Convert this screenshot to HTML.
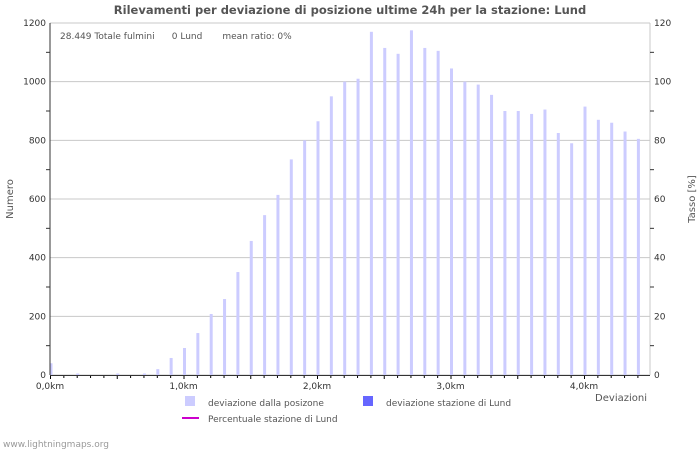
<!DOCTYPE html>
<html><head><meta charset="utf-8">
<style>
body{margin:0;background:#fff;width:700px;height:450px;overflow:hidden;font-family:"DejaVu Sans","Liberation Sans",sans-serif;}
svg text{font-family:"DejaVu Sans","Liberation Sans",sans-serif;}
</style></head><body>
<svg id="chart" width="700" height="450" xmlns="http://www.w3.org/2000/svg">
<text x="350" y="14" text-anchor="middle" font-size="11.5" font-weight="bold" fill="#555">Rilevamenti per deviazione di posizione ultime 24h per la stazione: Lund</text>
<g id="grid"></g>
<g id="bars"></g>
<g id="axes"></g>
<text x="60" y="39" font-size="9" fill="#555">28.449 Totale fulmini &#160;&#160;&#160;&#160;&#160;0 Lund &#160;&#160;&#160;&#160;&#160;&#160;mean ratio: 0%</text>
<text x="13" y="199" font-size="10" fill="#555" text-anchor="middle" transform="rotate(-90 13 199)">Numero</text>
<text x="695" y="199" font-size="10" fill="#555" text-anchor="middle" transform="rotate(-90 695 199)">Tasso [%]</text>
<text x="647" y="401" font-size="10" fill="#555" text-anchor="end">Deviazioni</text>
<g>
<rect x="185" y="396" width="10" height="10" fill="#ccccff"/>
<text x="208" y="406" font-size="9" fill="#555">deviazione dalla posizone</text>
<rect x="363" y="396" width="10" height="10" fill="#6666ff"/>
<text x="386" y="406" font-size="9" fill="#555">deviazione stazione di Lund</text>
<line x1="182" y1="418" x2="199" y2="418" stroke="#cc00cc" stroke-width="2"/>
<text x="208" y="422" font-size="9" fill="#555">Percentuale stazione di Lund</text>
</g>
<text x="3" y="447" font-size="9" fill="#999">www.lightningmaps.org</text>
</svg>
<script>
const categories = [0,0.1,0.2,0.3,0.4,0.5,0.6,0.7,0.8,0.9,1.0,1.1,1.2,1.3,1.4,1.5,1.6,1.7,1.8,1.9,2.0,2.1,2.2,2.3,2.4,2.5,2.6,2.7,2.8,2.9,3.0,3.1,3.2,3.3,3.4,3.5,3.6,3.7,3.8,3.9,4.0,4.1,4.2,4.3,4.4];
const deviationValues = [40,0,5,0,0,5,0,5,20,58,92,143,208,259,351,457,545,614,735,800,865,950,1000,1010,1170,1115,1095,1175,1115,1105,1045,1000,990,955,900,900,890,905,825,790,915,870,860,830,805];
const stationValues = [0,0,0,0,0,0,0,0,0,0,0,0,0,0,0,0,0,0,0,0,0,0,0,0,0,0,0,0,0,0,0,0,0,0,0,0,0,0,0,0,0,0,0,0,0];
const leftTicks = [0,200,400,600,800,1000,1200];
const rightTicks = [0,20,40,60,80,100,120];
const xTickLabels = ["0,0km","1,0km","2,0km","3,0km","4,0km"];

const NS="http://www.w3.org/2000/svg";
const X0=50,X1=650,Y0=375,Y1=23;
const xs=km=>X0+km*133.5;
const ys=v=>Y0-(v/1200)*(Y0-Y1);
const yr=v=>Y0-(v/120)*(Y0-Y1);
function mk(tag,attrs,parent){const e=document.createElementNS(NS,tag);for(const k in attrs)e.setAttribute(k,attrs[k]);parent.appendChild(e);return e;}
const grid=document.getElementById('grid'),bars=document.getElementById('bars'),axes=document.getElementById('axes');
leftTicks.forEach(t=>{
  const l=mk('line',{x1:X0,x2:X1,y1:ys(t),y2:ys(t),stroke:'#c8c8c8','stroke-width':1},grid);
  
  
  const tx=mk('text',{x:X0-4,y:ys(t)+3,'font-size':9,fill:'#333','text-anchor':'end'},axes);
  tx.textContent=t;
  
  
});
for(let v=100;v<1200;v+=200){mk('line',{x1:X0-4,x2:X0,y1:ys(v),y2:ys(v),stroke:'#333'},axes);}
rightTicks.forEach(t=>{
  const tx=mk('text',{x:X1+4,y:yr(t)+3,'font-size':9,fill:'#333'},axes);
  tx.textContent=t;
  
  
});
for(let v=10;v<120;v+=20){mk('line',{x1:X1,x2:X1+4,y1:yr(v),y2:yr(v),stroke:'#333'},axes);}
mk('line',{x1:X1,x2:X1,y1:Y1,y2:Y0,stroke:'#c8c8c8'},grid);
categories.forEach((c,i)=>{
  const h=Y0-ys(deviationValues[i]);
  const b=mk('rect',{x:xs(c)-0.5,y:ys(deviationValues[i]),width:3,height:h,fill:'#ccccff'},bars);
  
  
  const h2=Y0-ys(stationValues[i]);
  const s=mk('rect',{x:xs(c)-0.5,y:ys(stationValues[i]),width:3,height:h2,fill:'#6666ff'},bars);
  
  
  mk('line',{x1:xs(c)+0.5,x2:xs(c)+0.5,y1:Y0,y2:Y0+(i%5===0?4:3),stroke:'#000'},axes);
});
mk('line',{x1:X0,x2:X1,y1:Y0+0.5,y2:Y0+0.5,stroke:'#333'},axes);
mk('line',{x1:X0,x2:X0,y1:Y1,y2:Y0,stroke:'#333'},axes);
xTickLabels.forEach((lab,i)=>{
  const tx=mk('text',{x:xs(i),y:Y0+14,'font-size':9,fill:'#333','text-anchor':'middle'},axes);
  tx.textContent=lab;
  
  
});
</script>
</body></html>
